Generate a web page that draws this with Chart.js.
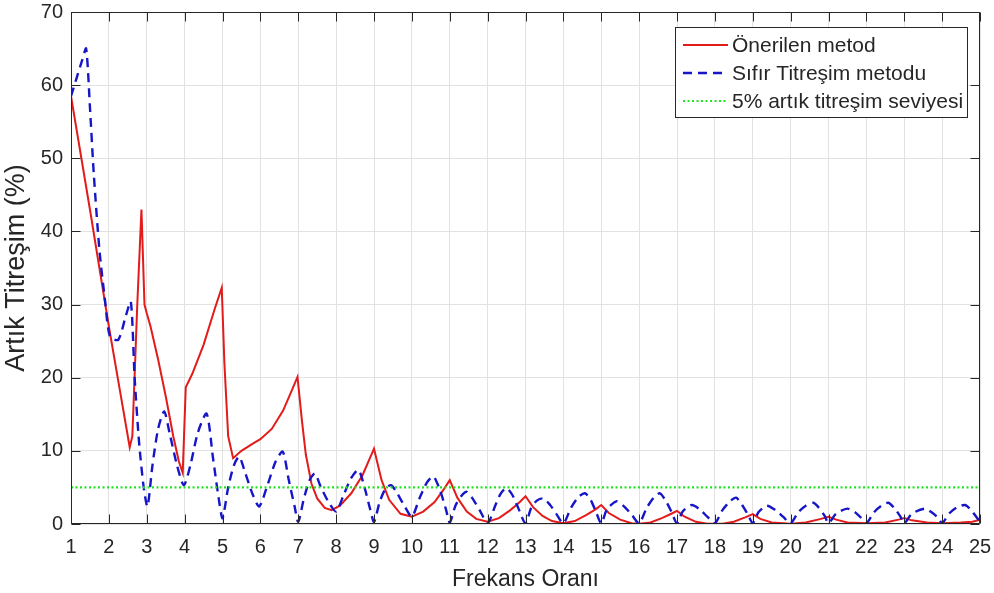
<!DOCTYPE html>
<html>
<head>
<meta charset="utf-8">
<script src="https://cdn.jsdelivr.net/npm/chart.js@4/dist/chart.umd.min.js"></script>
<style>
  html, body { margin: 0; padding: 0; background: #ffffff; }
  #wrap { width: 994px; height: 593px; }
</style>
</head>
<body>
<div id="wrap"><canvas id="c" width="994" height="593"></canvas></div>
<script>
// Frequency ratio (x) and residual vibration in percent (y)
const proposedX = [1, 1.5, 2, 2.3, 2.55, 2.62, 2.75, 2.86, 2.94, 3.0, 3.1, 3.3, 3.5, 3.7, 3.85, 3.95,
  4.03, 4.2, 4.5, 4.8, 4.98, 5.05, 5.15, 5.28, 5.5, 5.8, 6.0, 6.3, 6.6, 6.85, 6.98,
  7.1, 7.2, 7.35, 7.5, 7.7, 7.88, 8.1, 8.4, 8.7, 9.0, 9.2, 9.4, 9.7, 10.0, 10.3, 10.6, 10.85, 11.0,
  11.2, 11.45, 11.7, 12.0, 12.3, 12.6, 12.85, 13.0, 13.2, 13.45, 13.7, 14.0, 14.3, 14.6, 14.85, 15.0,
  15.2, 15.5, 15.8, 16.0, 16.3, 16.6, 16.85, 17.0, 17.2, 17.5, 17.8, 18.2, 18.5, 18.8, 19.0,
  19.2, 19.5, 20.0, 20.4, 20.8, 21.0, 21.2, 21.5, 22.0, 22.5, 22.85, 23.0, 23.2, 23.6, 24.0, 24.5, 24.8, 25.0];
const proposedY = [58.5, 43, 27, 18, 10.5, 12, 30, 43, 30, 28.8, 27, 22.5, 17.5, 12, 8.5, 7,
  18.7, 20.5, 24.5, 29.5, 32.3, 22, 12, 9, 10, 11, 11.6, 13, 15.5, 18.5, 20.1,
  14, 9.5, 5.5, 3.5, 2.2, 1.9, 2.5, 4.2, 6.7, 10.3, 6, 3.3, 1.4, 1.0, 1.7, 3.0, 4.8, 6.0,
  3.6, 1.7, 0.7, 0.3, 0.8, 1.9, 3.0, 3.8, 2.3, 1.1, 0.4, 0.1, 0.4, 1.2, 2.0, 2.6,
  1.5, 0.6, 0.1, 0.05, 0.2, 0.8, 1.4, 1.8, 1.0, 0.3, 0.05, 0.05, 0.3, 0.9, 1.35,
  0.7, 0.2, 0.05, 0.2, 0.7, 1.0, 0.6, 0.2, 0.1, 0.2, 0.6, 0.8, 0.5, 0.2, 0.1, 0.2, 0.3, 0.6];

const zvX = [1, 1.15, 1.3, 1.4, 1.5, 1.6, 1.75, 1.9, 2.03, 2.25, 2.45, 2.58, 2.68, 2.8, 2.92, 3.02,
  3.15, 3.3, 3.46, 3.6, 3.8, 3.98, 4.15, 4.35, 4.58, 4.75, 4.9, 5.0, 5.15, 5.3, 5.44, 5.6, 5.8, 5.97,
  6.2, 6.4, 6.59, 6.75, 6.9, 7.0, 7.15, 7.3, 7.44, 7.6, 7.8, 8.0, 8.2, 8.4, 8.59, 8.75, 8.9, 9.0,
  9.15, 9.3, 9.45, 9.6, 9.8, 10.0, 10.2, 10.4, 10.57, 10.75, 10.9, 11.0,
  11.15, 11.3, 11.45, 11.6, 11.8, 12.0, 12.2, 12.35, 12.5, 12.65, 12.8, 13.0,
  13.15, 13.3, 13.47, 13.65, 13.8, 14.0, 14.2, 14.4, 14.57, 14.72, 14.85, 15.0,
  15.15, 15.4, 15.6, 15.8, 16.0, 16.2, 16.4, 16.55, 16.7, 16.85, 17.0,
  17.15, 17.39, 17.6, 17.8, 18.0, 18.2, 18.4, 18.56, 18.72, 18.87, 19.0,
  19.15, 19.37, 19.6, 19.8, 20.0, 20.2, 20.4, 20.6, 20.75, 20.9, 21.0,
  21.2, 21.5, 21.7, 21.85, 22.0, 22.2, 22.4, 22.58, 22.75, 22.9, 23.0,
  23.2, 23.55, 23.75, 23.9, 24.0, 24.2, 24.4, 24.6, 24.75, 24.9, 25.0];
const zvY = [58.5, 61, 63.5, 65, 57, 48, 37.5, 30.5, 25.6, 25.2, 28.5, 30.4, 20, 11, 5, 2.4,
  8, 13, 15.4, 12.5, 8, 5.3, 8, 12.5, 15.1, 9, 3.5, 0.8, 5, 8, 9.2, 7, 4, 2.4,
  5.5, 8.5, 9.9, 6, 2.5, 0.3, 3.5, 6, 6.9, 5, 3, 1.7, 4, 6.3, 7.4, 5, 2, 0.3,
  3, 4.8, 5.3, 4.3, 2.5, 1.0, 3.5, 5.7, 6.5, 4.5, 2, 0.2,
  2.5, 3.8, 4.4, 3.5, 1.8, 0.1, 2.5, 4.2, 4.9, 4.0, 2.3, 0.1,
  2.2, 3.2, 3.5, 2.6, 1.5, 0.1, 2.2, 3.7, 4.2, 3.3, 1.8, 0.1,
  2.0, 3.1, 2.4, 1.3, 0.1, 2.2, 3.7, 4.2, 3.2, 1.7, 0.1,
  1.7, 2.6, 2.0, 1.0, 0.1, 1.9, 3.1, 3.6, 2.6, 1.3, 0.1,
  1.6, 2.5, 1.9, 1.0, 0.1, 1.6, 2.5, 2.9, 2.2, 1.1, 0.1,
  1.4, 2.1, 1.6, 0.9, 0.1, 1.6, 2.5, 2.9, 2.1, 1.0, 0.1,
  1.4, 2.1, 1.5, 0.8, 0.1, 1.5, 2.3, 2.6, 2.0, 1.0, 0.3];

const limitX = [1, 25];
const limitY = [5, 5];

const seriesNames = ['Önerilen metod', 'Sıfır Titreşim metodu', '5% artık titreşim seviyesi'];
const xTicks = [1,2,3,4,5,6,7,8,9,10,11,12,13,14,15,16,17,18,19,20,21,22,23,24,25];
const yTicks = [0,10,20,30,40,50,60,70];

const FONT = '"Liberation Sans", Arial, sans-serif';
const TEXT = '#262626';

const pts = (xs, ys) => xs.map((x, i) => ({ x: x, y: ys[i] }));

// Box around the axes with inward ticks on all four sides, plus the legend
const framePlugin = {
  id: 'frame',
  afterDraw(chart) {
    const { ctx, chartArea: a, scales } = chart;
    const L = a.left + 0.5, R = a.right - 0.5, T = a.top + 0.5, B = a.bottom - 0.5;
    ctx.save();
    ctx.strokeStyle = TEXT;
    ctx.lineWidth = 1;
    ctx.beginPath();
    ctx.rect(L, T, R - L, B - T);
    const tl = 9;
    xTicks.forEach(v => {
      const px = Math.round(scales.x.getPixelForValue(v)) + 0.5;
      ctx.moveTo(px, B); ctx.lineTo(px, B - tl);
      ctx.moveTo(px, T); ctx.lineTo(px, T + tl);
    });
    yTicks.forEach(v => {
      const py = Math.round(scales.y.getPixelForValue(v)) + 0.5;
      ctx.moveTo(L, py); ctx.lineTo(L + tl, py);
      ctx.moveTo(R, py); ctx.lineTo(R - tl, py);
    });
    ctx.stroke();

    // legend
    const bx = 675.5, by = 27.5, bw = 292, bh = 90;
    ctx.fillStyle = '#ffffff';
    ctx.fillRect(bx, by, bw, bh);
    ctx.strokeStyle = TEXT;
    ctx.strokeRect(bx, by, bw, bh);
    ctx.font = '21px ' + FONT;
    ctx.textBaseline = 'middle';
    ctx.textAlign = 'left';
    const rowY = [45, 73, 101];
    chart.data.datasets.forEach((ds, i) => {
      ctx.save();
      ctx.strokeStyle = ds.borderColor;
      ctx.lineWidth = ds.borderWidth;
      ctx.setLineDash(ds.borderDash || []);
      ctx.beginPath();
      ctx.moveTo(683, rowY[i]);
      ctx.lineTo(728, rowY[i]);
      ctx.stroke();
      ctx.restore();
      ctx.fillStyle = TEXT;
      ctx.fillText(seriesNames[i], 732, rowY[i] + 1);
    });
    ctx.restore();
  }
};

new Chart(document.getElementById('c'), {
  type: 'line',
  data: {
    datasets: [
      { label: seriesNames[0], data: pts(proposedX, proposedY), borderColor: '#e31b1b', borderWidth: 2,
        pointRadius: 0, tension: 0, order: 2 },
      { label: seriesNames[1], data: pts(zvX, zvY), borderColor: '#1616c8', borderWidth: 2.4,
        borderDash: [9, 6], pointRadius: 0, tension: 0.25, order: 1 },
      { label: seriesNames[2], data: pts(limitX, limitY), borderColor: '#1ee61e', borderWidth: 2.2,
        borderDash: [2, 2.5], pointRadius: 0, tension: 0, order: 0 }
    ]
  },
  options: {
    responsive: false,
    animation: false,
    events: [],
    layout: { padding: { left: 0, right: 14, top: 12, bottom: 0 } },
    plugins: { legend: { display: false }, tooltip: { enabled: false } },
    scales: {
      x: {
        type: 'linear', min: 1, max: 25,
        afterBuildTicks(s) { s.ticks = xTicks.map(v => ({ value: v })); },
        afterFit(s) { s.height = 69; s.paddingLeft = 0; s.paddingRight = 0; },
        grid: { color: '#e2e2e2', lineWidth: 1, drawTicks: false },
        border: { display: false },
        ticks: { color: TEXT, font: { family: FONT, size: 20 }, padding: 11, maxRotation: 0 },
        title: { display: true, text: 'Frekans Oranı', color: TEXT, font: { family: FONT, size: 23 },
          padding: { top: 4, bottom: 0 } }
      },
      y: {
        type: 'linear', min: 0, max: 70,
        afterBuildTicks(s) { s.ticks = yTicks.map(v => ({ value: v })); },
        afterFit(s) { s.width = 71; s.paddingTop = 0; s.paddingBottom = 0; },
        grid: { color: '#e2e2e2', lineWidth: 1, drawTicks: false },
        border: { display: false },
        ticks: { color: TEXT, font: { family: FONT, size: 20 }, padding: 8 },
        title: { display: true, text: 'Artık Titreşim (%)', color: TEXT, font: { family: FONT, size: 27 },
          padding: { top: 0, bottom: 0 } }
      }
    }
  },
  plugins: [framePlugin]
});
</script>
</body>
</html>
